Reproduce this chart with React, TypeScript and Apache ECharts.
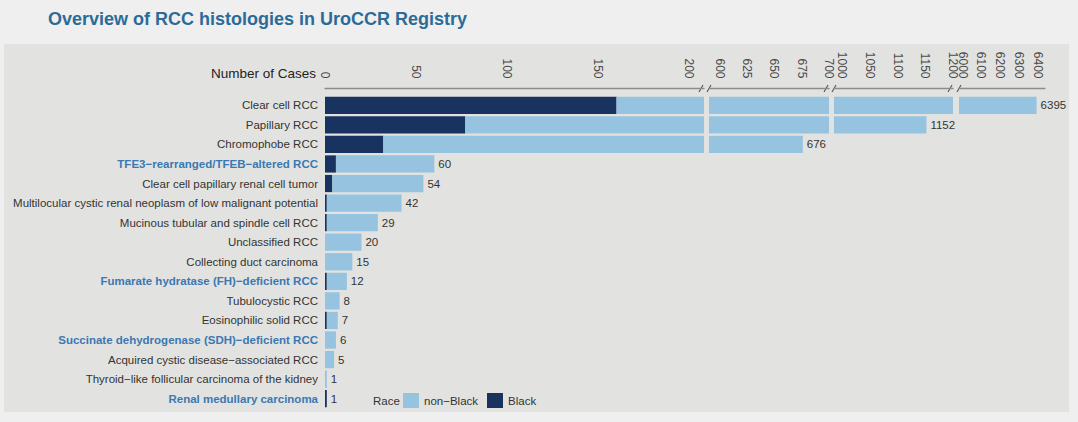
import React, { useEffect, useRef } from "react";
import * as echarts from "echarts";

const categories = [
  "Clear cell RCC",
  "Papillary RCC",
  "Chromophobe RCC",
  "TFE3−rearranged/TFEB−altered RCC",
  "Clear cell papillary renal cell tumor",
  "Multilocular cystic renal neoplasm of low malignant potential",
  "Mucinous tubular and spindle cell RCC",
  "Unclassified RCC",
  "Collecting duct carcinoma",
  "Fumarate hydratase (FH)−deficient RCC",
  "Tubulocystic RCC",
  "Eosinophilic solid RCC",
  "Succinate dehydrogenase (SDH)−deficient RCC",
  "Acquired cystic disease−associated RCC",
  "Thyroid−like follicular carcinoma of the kidney",
  "Renal medullary carcinoma",
];
const totals = [6395, 1152, 676, 60, 54, 42, 29, 20, 15, 12, 8, 7, 6, 5, 1, 1];
const blackCases = [160, 77, 32, 6, 4, 1, 1, 0, 0, 1, 0, 1, 0, 0, 0, 1];
const nonBlackCases = totals.map((t, i) => t - blackCases[i]);
const highlighted = [
  "TFE3−rearranged/TFEB−altered RCC",
  "Fumarate hydratase (FH)−deficient RCC",
  "Succinate dehydrogenase (SDH)−deficient RCC",
  "Renal medullary carcinoma",
];

// Broken-axis segments: value ranges and tick labels
const segMin = [0, 590, 985, 5980];
const segMax = [208, 700, 1200, 6440];
const segTicks = [
  [0, 50, 100, 150, 200],
  [600, 625, 650, 675, 700],
  [1000, 1050, 1100, 1150, 1200],
  [6000, 6100, 6200, 6300, 6400],
];

// layout (pixels)
const segLeft = [325, 709, 834, 959];
const segWidth = [379, 120, 119, 86];
const gridTop = 95.5;
const gridHeight = 313;
const axisOffset = 7;

const DARK = "#18335f";
const LIGHT = "#95c3e0";
const TEXT = "#333333";
const HL = "#3b78b2";
const FONT = "Liberation Sans, Arial, sans-serif";

export default function App() {
  const ref = useRef<HTMLDivElement>(null);
  useEffect(() => {
    if (!ref.current) return;
    const chart = echarts.init(ref.current, null, { renderer: "svg" });

    const grids: any[] = [];
    const xAxes: any[] = [];
    const yAxes: any[] = [];
    const series: any[] = [];
    const graphics: any[] = [];

    graphics.push({
      type: "rect",
      z: -100,
      silent: true,
      shape: { x: 4, y: 44, width: 1065, height: 368 },
      style: { fill: "#e2e3e0" },
    });

    for (let s = 0; s < 4; s++) {
      grids.push({ left: segLeft[s], top: gridTop, width: segWidth[s], height: gridHeight, containLabel: false });
      xAxes.push({
        type: "value",
        gridIndex: s,
        position: "top",
        offset: axisOffset,
        min: segMin[s],
        max: segMax[s],
        splitLine: { show: false },
        axisTick: { show: false },
        axisLine: { show: true, lineStyle: { color: "#8c8c8c", width: 1.3 } },
        axisLabel: {
          rotate: 90,
          margin: 10,
          fontSize: 12,
          color: "#4a4a4a",
          fontFamily: FONT,
          customValues: segTicks[s],
          showMinLabel: true,
          showMaxLabel: true,
          formatter: (v: number) => String(v),
        },
      });
      yAxes.push({
        type: "category",
        gridIndex: s,
        data: categories,
        inverse: true,
        show: s === 0,
        axisLine: { show: false },
        axisTick: { show: false },
        splitLine: { show: false },
        axisLabel: {
          show: s === 0,
          margin: 7,
          fontSize: 11.5,
          fontFamily: FONT,
          formatter: (v: string) => (highlighted.includes(v) ? `{h|${v}}` : `{n|${v}}`),
          rich: {
            n: { color: TEXT, fontSize: 11.5, fontFamily: FONT },
            h: { color: HL, fontSize: 11.5, fontWeight: "bold", fontFamily: FONT },
          },
        },
      });
      series.push({
        type: "bar",
        name: "Black",
        xAxisIndex: s,
        yAxisIndex: s,
        stack: "seg" + s,
        barCategoryGap: "12%",
        clip: true,
        itemStyle: { color: DARK },
        data: blackCases,
      });
      series.push({
        type: "bar",
        name: "non−Black",
        xAxisIndex: s,
        yAxisIndex: s,
        stack: "seg" + s,
        barCategoryGap: "12%",
        clip: true,
        itemStyle: { color: LIGHT },
        data: nonBlackCases.map((v, i) => {
          const t = totals[i];
          const inSeg = t >= segMin[s] && t <= segMax[s];
          return {
            value: v,
            label: {
              show: inSeg,
              position: "right",
              distance: 4,
              formatter: String(t),
              fontSize: 11.5,
              color: TEXT,
              fontFamily: FONT,
            },
          };
        }),
      });

      // break marks "//" between segments
      const axisY = gridTop - axisOffset;
      if (s < 3) {
        const xe = segLeft[s] + segWidth[s] - 3;
        graphics.push({
          type: "line",
          silent: true,
          shape: { x1: xe - 2, y1: axisY + 3.5, x2: xe + 2, y2: axisY - 3.5 },
          style: { stroke: "#555", lineWidth: 1.1 },
        });
      }
      if (s > 0) {
        const xs = segLeft[s];
        graphics.push({
          type: "line",
          silent: true,
          shape: { x1: xs - 2, y1: axisY + 3.5, x2: xs + 2, y2: axisY - 3.5 },
          style: { stroke: "#555", lineWidth: 1.1 },
        });
      }
    }

    graphics.push({
      type: "text",
      x: 48,
      y: 19,
      style: {
        text: "Overview of RCC histologies in UroCCR Registry",
        fill: "#2b6b98",
        fontSize: 18,
        fontWeight: "bold",
        fontFamily: FONT,
        verticalAlign: "middle",
      },
    });
    graphics.push({
      type: "text",
      x: 316,
      y: 73,
      style: {
        text: "Number of Cases",
        fill: "#222",
        fontSize: 13.5,
        fontFamily: FONT,
        align: "right",
        verticalAlign: "middle",
      },
    });
    graphics.push({
      type: "text",
      x: 373,
      y: 401,
      style: {
        text: "Race",
        fill: TEXT,
        fontSize: 11.5,
        fontFamily: FONT,
        verticalAlign: "middle",
      },
    });

    chart.setOption({
      animation: false,
      backgroundColor: "#efefef",
      grid: grids,
      xAxis: xAxes,
      yAxis: yAxes,
      series,
      legend: {
        data: ["non−Black", "Black"],
        left: 403,
        top: 393,
        padding: 0,
        itemWidth: 16,
        itemHeight: 15,
        itemGap: 9,
        icon: "rect",
        textStyle: { fontSize: 11.5, color: TEXT, fontFamily: FONT },
        selectedMode: false,
      },
      graphic: graphics,
    });
    return () => chart.dispose();
  }, []);
  return (
    <div
      ref={ref}
      style={{ position: "absolute", left: 0, top: 0, width: 1078, height: 422 }}
    />
  );
}
